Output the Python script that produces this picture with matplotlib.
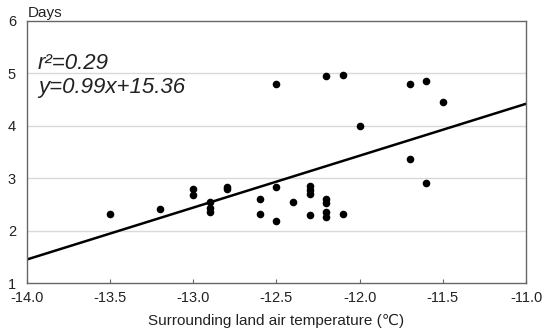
import matplotlib
matplotlib.use("Agg")
import matplotlib.pyplot as plt
import numpy as np

plt.rcParams['font.family'] = ['Liberation Sans', 'DejaVu Sans']

# temperature (x) and duration in days (y)
temp = [-13.5, -13.2,
        -13.0, -13.0,
        -12.9, -12.9, -12.9,
        -12.8, -12.8,
        -12.6, -12.6,
        -12.5, -12.5, -12.5,
        -12.4,
        -12.3, -12.3, -12.3, -12.3,
        -12.2, -12.2, -12.2, -12.2, -12.2,
        -12.1, -12.1,
        -12.0,
        -11.7, -11.7,
        -11.6, -11.6,
        -11.5]
days = [2.32, 2.42,
        2.79, 2.68,
        2.54, 2.44, 2.36,
        2.83, 2.79,
        2.60, 2.31,
        4.79, 2.83, 2.18,
        2.55,
        2.86, 2.77, 2.69, 2.30,
        4.95, 2.60, 2.52, 2.36, 2.26,
        4.96, 2.31,
        3.99,
        4.80, 3.37,
        4.85, 2.91,
        4.45]

# regression line endpoints
fit_x = [-14.0, -11.0]
fit_y = [1.45, 4.42]

x_ticks = [-14.0, -13.5, -13.0, -12.5, -12.0, -11.5, -11.0]
y_ticks = [1, 2, 3, 4, 5, 6]

fig = plt.figure(figsize=(5.43, 3.33), dpi=100)
ax = fig.add_axes([0.0497, 0.150, 0.919, 0.787])

for yv in [2, 3, 4, 5]:
    ax.axhline(yv, color='#d9d9d9', lw=1.0, zorder=0)

ax.plot(fit_x, fit_y, color='black', lw=1.8, zorder=2)
ax.scatter(temp, days, s=20, color='black', zorder=3)

ax.set_xlim(-14.0, -11.0)
ax.set_ylim(1, 6)
ax.set_xticks(x_ticks)
ax.set_xticklabels([f"{v:.1f}" for v in x_ticks], fontsize=10.5, color='#222222')
ax.set_yticks(y_ticks)
ax.set_yticklabels([str(v) for v in y_ticks], fontsize=10.5, color='#222222')
ax.tick_params(axis='x', direction='in', length=3, color='#666666', pad=6)
ax.tick_params(axis='y', length=0, pad=8)

for s in ax.spines.values():
    s.set_color('#666666')
    s.set_linewidth(1.0)

ax.set_xlabel("Surrounding land air temperature (℃)", fontsize=11, labelpad=6,
              color='#222222')

fig.text(0.052, 0.94, "Days", fontsize=11, ha='left', va='bottom', color='#222222')

ax.text(0.022, 0.815, "r²=0.29", transform=ax.transAxes, fontsize=16,
        style='italic', color='#222222')
ax.text(0.022, 0.725, "y=0.99x+15.36", transform=ax.transAxes, fontsize=16,
        style='italic', color='#222222')

fig.savefig("out.png", dpi=100)
